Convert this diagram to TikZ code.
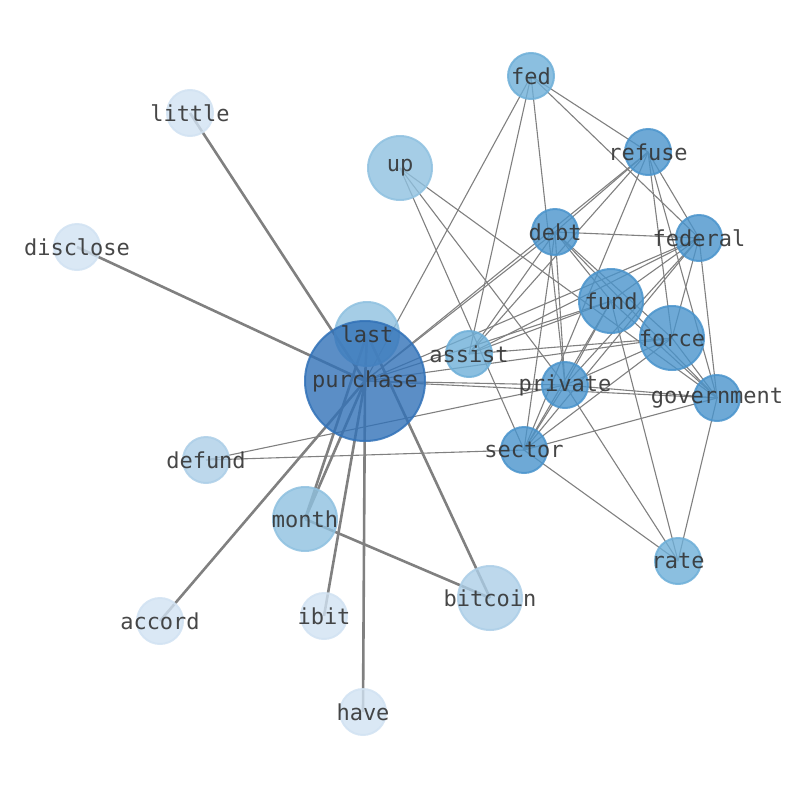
\documentclass[tikz,border=0pt]{standalone}
\usepackage{fontspec}
\setmonofont{DejaVu Sans Mono}
\usepackage{tikz}
\usetikzlibrary{backgrounds}

\definecolor{bluedark}{RGB}{50,114,184}
\definecolor{bluemid}{RGB}{74,148,204}
\definecolor{bluelight}{RGB}{110,175,216}
\definecolor{bluepale}{RGB}{143,193,224}
\definecolor{bluefaint}{RGB}{172,206,231}
\definecolor{bluemist}{RGB}{209,226,242}
\definecolor{labelgray}{RGB}{51,51,51}
\definecolor{edgegray}{RGB}{128,128,128}
\newcommand{\wordfont}{\ttfamily\fontsize{22}{24}\selectfont}
\pgfdeclarelayer{discs}
\pgfsetlayers{background,discs,main}

\begin{document}
\begin{tikzpicture}[x=1pt,y=-1pt,
    word/.style={font=\wordfont,text=labelgray,text opacity=0.9,inner sep=0pt},
    disc/.style={line width=2pt,draw=#1,fill=#1,fill opacity=0.8,draw opacity=0.85},
    link/.style={draw=edgegray,line width=1.1pt},
    heavy/.style={draw=edgegray,line width=2.6pt}]
  \useasboundingbox (0,0) rectangle (794,790);
  % words
  \node[word] (purchase) at (365,381) {purchase};
  \node[word] (last) at (367,334) {last};
  \node[word] (up) at (400,168) {up};
  \node[word] (month) at (305,519) {month};
  \node[word] (bitcoin) at (490,598) {bitcoin};
  \node[word] (fund) at (611,301) {fund};
  \node[word] (force) at (672,338) {force};
  \node[word] (fed) at (531,76) {fed};
  \node[word] (refuse) at (648,152) {refuse};
  \node[word] (debt) at (555,232) {debt};
  \node[word] (federal) at (699,238) {federal};
  \node[word] (assist) at (469,354) {assist};
  \node[word] (private) at (565,385) {private};
  \node[word] (government) at (717,398) {government};
  \node[word] (sector) at (524,450) {sector};
  \node[word] (rate) at (678,561) {rate};
  \node[word] (defund) at (206,460) {defund};
  \node[word] (little) at (190,113) {little};
  \node[word] (disclose) at (77,247) {disclose};
  \node[word] (accord) at (160,621) {accord};
  \node[word] (ibit) at (324,616) {ibit};
  \node[word] (have) at (363,712) {have};
  % circles under the words
  \begin{pgfonlayer}{discs}
    \foreach \n/\r/\c in {last/32/bluepale,purchase/60/bluedark,up/32/bluepale,month/32/bluepale,
        bitcoin/32/bluefaint,fund/32/bluemid,force/32/bluemid,fed/23/bluelight,refuse/23/bluemid,
        debt/23/bluemid,federal/23/bluemid,assist/23/bluelight,private/23/bluemid,
        government/23/bluemid,sector/23/bluemid,rate/23/bluelight,defund/23/bluefaint,
        little/23/bluemist,disclose/23/bluemist,accord/23/bluemist,ibit/23/bluemist,have/23/bluemist}
      \filldraw[disc=\c] (\n.center) circle (\r);
  \end{pgfonlayer}
  % links
  \begin{scope}[on background layer]
    \foreach \a/\b in {purchase/little,purchase/disclose,purchase/accord,purchase/month,
        purchase/ibit,purchase/have,purchase/last,last/month,last/bitcoin,month/bitcoin}
      \draw[heavy] (\a.center) -- (\b.center);
    \foreach \a/\b in {purchase/fed,purchase/refuse,purchase/debt,purchase/federal,
        purchase/fund,purchase/force,purchase/private,purchase/government,
        fed/assist,fed/private,fed/refuse,fed/federal,
        refuse/federal,refuse/force,refuse/government,refuse/debt,refuse/assist,refuse/sector,
        debt/federal,debt/fund,debt/force,debt/government,debt/private,debt/sector,debt/assist,
        federal/assist,federal/fund,federal/force,federal/government,federal/private,federal/sector,
        fund/assist,fund/sector,fund/private,fund/government,fund/rate,
        force/assist,force/government,force/sector,force/private,
        government/private,government/sector,government/rate,government/up,
        private/defund,private/up,private/rate,private/sector,
        sector/defund,sector/up,sector/rate}
      \draw[link] (\a.center) -- (\b.center);
  \end{scope}
\end{tikzpicture}
\end{document}
